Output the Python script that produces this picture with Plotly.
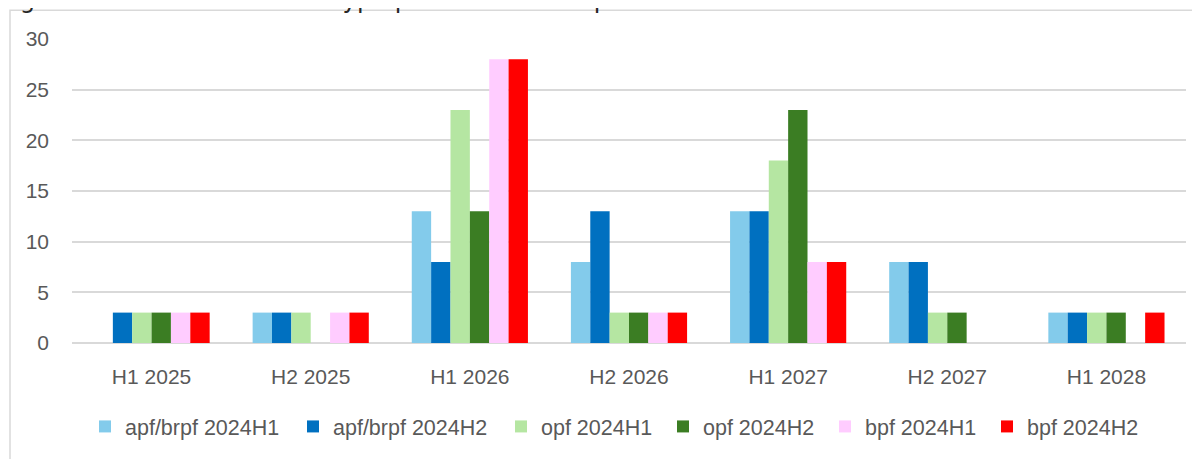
import plotly.graph_objects as go

categories = ["H1 2025", "H2 2025", "H1 2026", "H2 2026", "H1 2027", "H2 2027", "H1 2028"]
apf_brpf_2024H1 = [0, 3, 13, 8, 13, 8, 3]
apf_brpf_2024H2 = [3, 3, 8, 13, 13, 8, 3]
opf_2024H1 = [3, 3, 23, 3, 18, 3, 3]
opf_2024H2 = [3, 0, 13, 3, 23, 3, 3]
bpf_2024H1 = [3, 3, 28, 3, 8, 0, 0]
bpf_2024H2 = [3, 3, 28, 3, 8, 0, 3]
series_names = ["apf/brpf 2024H1", "apf/brpf 2024H2", "opf 2024H1", "opf 2024H2", "bpf 2024H1", "bpf 2024H2"]
series_values = [apf_brpf_2024H1, apf_brpf_2024H2, opf_2024H1, opf_2024H2, bpf_2024H1, bpf_2024H2]
colors = ["#83CBEB", "#0070C0", "#B5E6A2", "#3B7D23", "#FFCCFF", "#FF0000"]
y_ticks = [0, 5, 10, 15, 20, 25, 30]
title_text = "Figuur 2 Transitiedata naar type pensioenfonds op basis van bandbreedtes"

# the page has an 8px body margin; the figure is sized to fit the window
W, H = 1192, 451
ML, MR, MT, MB = 64, 14, 31, 114
pw = W - ML - MR
ph = H - MT - MB
OFF = 8

font_family = "Liberation Sans, Arial, sans-serif"
text_col = "#595959"

# left edge (page px) of each legend swatch in the reference
legend_swatch_left = [101, 309, 517, 679, 841, 1003]
legend_y_page = 429

fig = go.Figure()
legend_layouts = {}
for i, (name, vals, col) in enumerate(zip(series_names, series_values, colors)):
    key = "legend" if i == 0 else f"legend{i + 1}"
    fig.add_trace(go.Bar(
        x=categories, y=vals, name=name, legend=key,
        marker=dict(color=col, line=dict(width=0)),
    ))
    left_fig = legend_swatch_left[i] - 2 - 14 - OFF
    legend_layouts[key] = dict(
        orientation="h", x=(left_fig - ML) / pw, xanchor="left",
        y=-(legend_y_page - OFF - (MT + ph)) / ph, yanchor="middle",
        font=dict(size=21.5, color=text_col, family=font_family),
        itemwidth=30, bgcolor="rgba(0,0,0,0)", borderwidth=0,
    )

fig.update_layout(
    width=W, height=H,
    margin=dict(l=ML, r=MR, t=MT, b=MB),
    barmode="group", bargap=0.27, bargroupgap=0,
    plot_bgcolor="white", paper_bgcolor="white",
    font=dict(family=font_family, color=text_col, size=21),
    showlegend=True,
    xaxis=dict(
        showgrid=False, showline=False, ticks="", zeroline=False,
        tickfont=dict(size=21, color=text_col), ticklabelstandoff=19,
    ),
    yaxis=dict(
        range=[0, 30], tickvals=y_ticks, showgrid=True, gridcolor="#D9D9D9", gridwidth=1.5,
        zeroline=True, zerolinecolor="#D9D9D9", zerolinewidth=1.5, showline=False, ticks="",
        tickfont=dict(size=21, color=text_col), ticklabelstandoff=22,
    ),
    shapes=[dict(
        type="rect", xref="paper", yref="paper",
        x0=(2 - ML) / pw, x1=(1300 - ML) / pw,
        y0=-(600 - MT - ph) / ph, y1=1 + (MT - 2) / ph,
        line=dict(color="#D9D9D9", width=1.5), fillcolor="rgba(0,0,0,0)", layer="below",
    )],
    annotations=[dict(
        text=title_text, xref="paper", yref="paper",
        x=(-9 - ML) / pw, xanchor="left", y=1 + (MT - 8) / ph, yanchor="bottom",
        showarrow=False, font=dict(size=24.2, color="#262626", family="DejaVu Sans, Verdana, sans-serif"),
    )],
    **legend_layouts,
)

fig.write_html("out.html")
